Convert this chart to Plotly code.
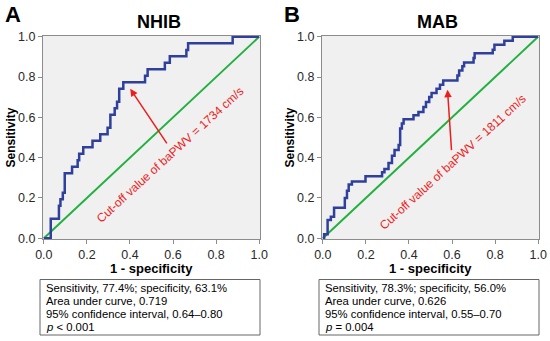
import plotly.graph_objects as go

# ---- data ----
panel_letters = ["A", "B"]
panel_titles = ["NHIB", "MAB"]

# ROC points (1 - specificity, sensitivity), drawn as steps (horizontal then vertical)
nhib_fpr = [0.0, 0.032, 0.070, 0.077, 0.088, 0.097, 0.131, 0.157, 0.164, 0.183, 0.226,
            0.262, 0.296, 0.309, 0.329, 0.340, 0.350, 0.369, 0.470, 0.482, 0.562, 0.585,
            0.662, 0.670, 0.877, 1.0]
nhib_tpr = [0.0, 0.097, 0.161, 0.194, 0.226, 0.323, 0.355, 0.387, 0.419, 0.452, 0.484,
            0.516, 0.548, 0.613, 0.645, 0.677, 0.742, 0.774, 0.806, 0.839, 0.871, 0.903,
            0.935, 0.968, 1.0, 1.0]

mab_fpr = [0.0, 0.006, 0.022, 0.037, 0.052, 0.102, 0.112, 0.120, 0.135, 0.198, 0.275,
           0.286, 0.305, 0.321, 0.333, 0.352, 0.359, 0.367, 0.375, 0.421, 0.444, 0.467,
           0.479, 0.494, 0.505, 0.528, 0.544, 0.559, 0.625, 0.633, 0.648, 0.656, 0.700,
           0.705, 0.789, 0.797, 0.843, 0.882, 1.0]
mab_tpr = [0.0, 0.020, 0.090, 0.107, 0.151, 0.200, 0.236, 0.266, 0.282, 0.307, 0.327,
           0.343, 0.373, 0.409, 0.438, 0.463, 0.545, 0.570, 0.590, 0.611, 0.626, 0.652,
           0.676, 0.701, 0.721, 0.742, 0.762, 0.783, 0.808, 0.833, 0.854, 0.873, 0.895,
           0.918, 0.936, 0.961, 0.980, 1.0, 1.0]

ref_line = [0.0, 1.0]

cutoff_labels = ["Cut-off value of baPWV = 1734 cm/s", "Cut-off value of baPWV = 1811 cm/s"]
arrow_head = [(0.401, 0.742), (0.579, 0.737)]
arrow_tail = [(0.576, 0.463), (0.598, 0.430)]
label_pos = [(0.585, 0.414), (0.604, 0.379)]

stats_text = [
    ["Sensitivity, 77.4%; specificity, 63.1%", "Area under curve, 0.719",
     "95% confidence interval, 0.64\u20130.80", "<i>p</i> < 0.001"],
    ["Sensitivity, 78.3%; specificity, 56.0%", "Area under curve, 0.626",
     "95% confidence interval, 0.55\u20130.70", "<i>p</i> = 0.004"],
]

tick_vals = [0.0, 0.2, 0.4, 0.6, 0.8, 1.0]
tick_text = ["0.0", "0.2", "0.4", "0.6", "0.8", "1.0"]

# ---- layout geometry (pixels) ----
W, H = 550, 341
FONT = "Arial, Liberation Sans, sans-serif"
plot_left = [43, 322]
plot_w = 217
plot_top, plot_bottom = 36, 239

def px_x(p):
    return p / W

def px_y(p):
    return 1 - p / H

BLUE = "#2F3F9C"
GREEN = "#22B040"
RED = "#EE1C1C"

fig = go.Figure()
curves = [(nhib_fpr, nhib_tpr), (mab_fpr, mab_tpr)]
annotations = []
shapes = []

for i in range(2):
    xa = "x" if i == 0 else "x2"
    ya = "y" if i == 0 else "y2"
    fig.add_trace(go.Scatter(x=ref_line, y=ref_line, mode="lines",
                             line=dict(color=GREEN, width=2), xaxis=xa, yaxis=ya,
                             showlegend=False, hoverinfo="skip"))
    fx, fy = curves[i]
    fig.add_trace(go.Scatter(x=fx, y=fy, mode="lines", line_shape="hv",
                             line=dict(color=BLUE, width=2.5), xaxis=xa, yaxis=ya,
                             showlegend=False))
    axis_common = dict(range=[-0.004, 1.004], tickvals=tick_vals, ticktext=tick_text,
                       showgrid=False, zeroline=False, showline=True, mirror=True,
                       linecolor="#8C8C8C", linewidth=1, ticks="outside", ticklen=4,
                       tickcolor="#8C8C8C", automargin=False,
                       tickfont=dict(family=FONT, size=12.5, color="#2A2A2A"))
    xkey = "xaxis" if i == 0 else "xaxis2"
    ykey = "yaxis" if i == 0 else "yaxis2"
    fig.layout[xkey] = dict(axis_common,
                            domain=[px_x(plot_left[i]), px_x(plot_left[i] + plot_w)],
                            anchor=ya)
    fig.layout[ykey] = dict(axis_common,
                            domain=[px_y(plot_bottom), px_y(plot_top)],
                            anchor=xa)

    cx = plot_left[i] + plot_w / 2
    # panel letter
    annotations.append(dict(text="<b>%s</b>" % panel_letters[i], xref="paper", yref="paper",
                            x=px_x(plot_left[i] - 30), y=px_y(15), xanchor="center",
                            yanchor="middle", showarrow=False,
                            font=dict(family=FONT, size=22, color="black")))
    # title
    annotations.append(dict(text="<b>%s</b>" % panel_titles[i], xref="paper", yref="paper",
                            x=px_x(cx + 7), y=px_y(22), xanchor="center", yanchor="middle",
                            showarrow=False, font=dict(family=FONT, size=18, color="black")))
    # y title
    annotations.append(dict(text="<b>Sensitivity</b>", xref="paper", yref="paper",
                            x=px_x(plot_left[i] - 33), y=px_y((plot_top + plot_bottom) / 2),
                            xanchor="center", yanchor="middle", textangle=-90,
                            showarrow=False, font=dict(family=FONT, size=12, color="black")))
    # x title
    annotations.append(dict(text="<b>1 - specificity</b>", xref="paper", yref="paper",
                            x=px_x(cx), y=px_y(268), xanchor="center", yanchor="middle",
                            showarrow=False, font=dict(family=FONT, size=13, color="black")))
    # arrow
    annotations.append(dict(x=arrow_head[i][0], y=arrow_head[i][1], ax=arrow_tail[i][0],
                            ay=arrow_tail[i][1], xref=xa, yref=ya, axref=xa, ayref=ya,
                            text="", showarrow=True, arrowhead=2, arrowsize=1,
                            arrowwidth=1.5, arrowcolor=RED))
    # cutoff label
    annotations.append(dict(x=label_pos[i][0], y=label_pos[i][1], xref=xa, yref=ya,
                            text=cutoff_labels[i], textangle=-42.5, showarrow=False,
                            xanchor="center", yanchor="middle",
                            font=dict(family=FONT, size=12, color=RED)))
    # stats box
    box_l = plot_left[i] - 3
    shapes.append(dict(type="rect", xref="paper", yref="paper",
                       x0=px_x(box_l), x1=px_x(box_l + 220), y0=px_y(335), y1=px_y(279.5),
                       line=dict(color="#666666", width=1), fillcolor="white"))
    for j, line in enumerate(stats_text[i]):
        annotations.append(dict(text=line, xref="paper", yref="paper",
                                x=px_x(box_l + 4), y=px_y(287.5 + 13.3 * j),
                                xanchor="left", yanchor="middle", showarrow=False,
                                font=dict(family=FONT, size=11.3, color="black")))

fig.update_layout(width=W, height=H, margin=dict(l=0, r=0, t=0, b=0),
                  paper_bgcolor="white", plot_bgcolor="#F0F0F0",
                  annotations=annotations, shapes=shapes, showlegend=False)

fig.write_html("out.html", config={"displayModeBar": False},
               post_script="document.body.style.margin='0';document.body.style.padding='0';")
